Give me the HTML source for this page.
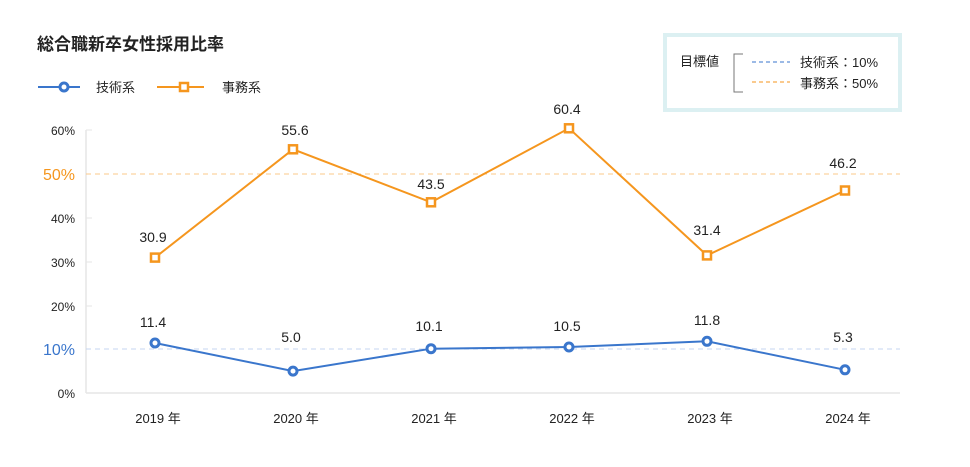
<!DOCTYPE html>
<html><head><meta charset="utf-8"><style>
body{margin:0;background:#fff;width:970px;height:462px;overflow:hidden;font-family:"Liberation Sans","Noto Sans CJK JP",sans-serif;}
</style></head><body>
<svg width="970" height="462" xmlns="http://www.w3.org/2000/svg" font-family="Liberation Sans, Noto Sans CJK JP, sans-serif">
<text x="37" y="50" font-size="17" font-weight="bold" fill="#222">総合職新卒女性採用比率</text>
<line x1="38" y1="87" x2="80" y2="87" stroke="#3a76cc" stroke-width="2"/>
<circle cx="64" cy="87" r="4" fill="#fff" stroke="#3a76cc" stroke-width="3"/>
<text x="96" y="92" font-size="13" fill="#222">技術系</text>
<line x1="157" y1="87" x2="204" y2="87" stroke="#f5961e" stroke-width="2"/>
<rect x="180" y="83" width="8" height="8" fill="#fff" stroke="#f5961e" stroke-width="2.5"/>
<text x="222" y="92" font-size="13" fill="#222">事務系</text>
<rect x="665" y="35" width="235" height="75" fill="#fff" stroke="#dcf0f2" stroke-width="4"/>
<text x="680" y="66" font-size="13" fill="#222">目標値</text>
<path d="M743 54 H734 V92 H743" fill="none" stroke="#777" stroke-width="1"/>
<line x1="752" y1="62" x2="790" y2="62" stroke="#3a76cc" stroke-dasharray="4,3"/>
<line x1="752" y1="82" x2="790" y2="82" stroke="#f5961e" stroke-dasharray="4,3"/>
<text x="800" y="67" font-size="13" fill="#222">技術系：10%</text>
<text x="800" y="88" font-size="13" fill="#222">事務系：50%</text>
<line x1="86" y1="130" x2="86" y2="393" stroke="#e6e6e6" stroke-width="1.5"/>
<line x1="86" y1="393" x2="900" y2="393" stroke="#e6e6e6" stroke-width="1.5"/>
<g stroke="#e6e6e6"><line x1="86" y1="130" x2="92" y2="130"/><line x1="86" y1="218" x2="92" y2="218"/><line x1="86" y1="262" x2="92" y2="262"/><line x1="86" y1="306" x2="92" y2="306"/></g>
<line x1="86" y1="174" x2="900" y2="174" stroke="#fbc98a" stroke-dasharray="5,4"/>
<line x1="86" y1="349" x2="900" y2="349" stroke="#c5d6f2" stroke-dasharray="5,4"/>
<g font-size="12" fill="#222" text-anchor="end">
<text x="75" y="135">60%</text><text x="75" y="223">40%</text><text x="75" y="267">30%</text><text x="75" y="311">20%</text><text x="75" y="398">0%</text>
</g>
<text x="75" y="180" font-size="16" fill="#f5961e" text-anchor="end">50%</text>
<text x="75" y="355" font-size="16" fill="#3a76cc" text-anchor="end">10%</text>
<g font-size="13" fill="#222" text-anchor="middle">
<text x="158" y="423">2019 年</text><text x="296" y="423">2020 年</text><text x="434" y="423">2021 年</text><text x="572" y="423">2022 年</text><text x="710" y="423">2023 年</text><text x="848" y="423">2024 年</text>
</g>
<polyline points="155,257.6 293,149.3 431,202.3 569,128.3 707,255.4 845,190.5" fill="none" stroke="#f5961e" stroke-width="2"/>
<g fill="#fff" stroke="#f5961e" stroke-width="2.5">
<rect x="151" y="253.6" width="8" height="8"/><rect x="289" y="145.3" width="8" height="8"/><rect x="427" y="198.3" width="8" height="8"/><rect x="565" y="124.3" width="8" height="8"/><rect x="703" y="251.4" width="8" height="8"/><rect x="841" y="186.5" width="8" height="8"/>
</g>
<polyline points="155,343 293,371.1 431,348.7 569,347 707,341.3 845,369.8" fill="none" stroke="#3a76cc" stroke-width="2"/>
<g fill="#fff" stroke="#3a76cc" stroke-width="3">
<circle cx="155" cy="343" r="4"/><circle cx="293" cy="371.1" r="4"/><circle cx="431" cy="348.7" r="4"/><circle cx="569" cy="347" r="4"/><circle cx="707" cy="341.3" r="4"/><circle cx="845" cy="369.8" r="4"/>
</g>
<g font-size="14" fill="#222" text-anchor="middle">
<text x="153" y="242">30.9</text><text x="295" y="135">55.6</text><text x="431" y="189">43.5</text><text x="567" y="114">60.4</text><text x="707" y="235">31.4</text><text x="843" y="168">46.2</text>
<text x="153" y="327">11.4</text><text x="291" y="342">5.0</text><text x="429" y="331">10.1</text><text x="567" y="331">10.5</text><text x="707" y="325">11.8</text><text x="843" y="342">5.3</text>
</g>
</svg>
</body></html>
